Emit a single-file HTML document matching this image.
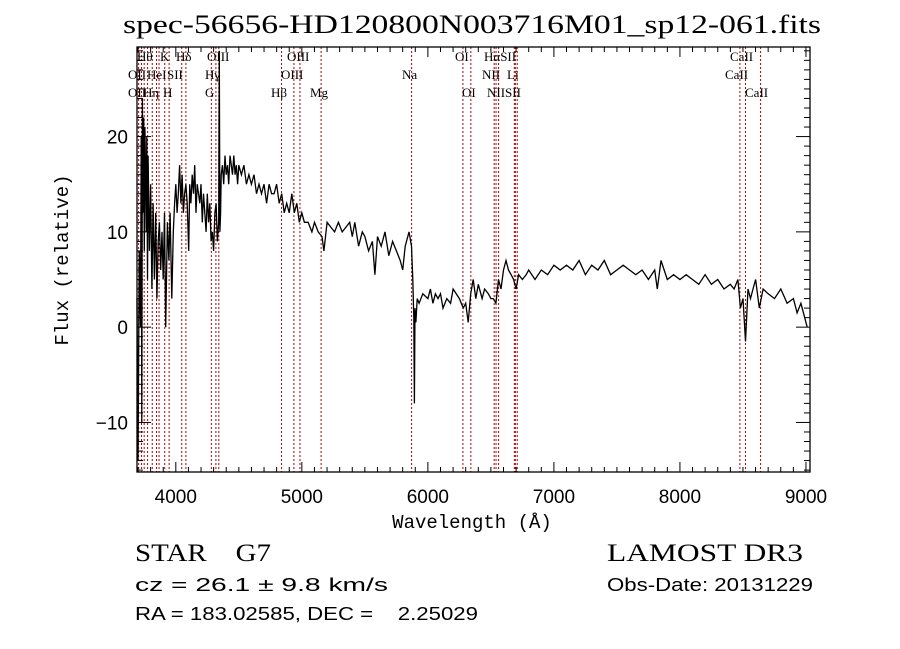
<!DOCTYPE html>
<html><head><meta charset="utf-8"><style>
html,body{margin:0;padding:0;background:#fff;}
svg{display:block;}
</style></head><body>
<svg id="chart" width="900" height="649" viewBox="0 0 900 649" xmlns="http://www.w3.org/2000/svg" font-family="Liberation Serif, serif">
<rect width="900" height="649" fill="#fff"/>
<text x="123" y="33" font-size="26" textLength="698" lengthAdjust="spacingAndGlyphs" font-family="Liberation Serif, serif">spec-56656-HD120800N003716M01_sp12-061.fits</text>
<g id="lines"></g>
<g id="labels" font-size="13"></g>
<path id="spec" fill="none" stroke="#000" stroke-width="1.3"/>
<g id="axes"></g>
<text x="472" y="528" font-size="19" text-anchor="middle" font-family="Liberation Mono, monospace">Wavelength (Å)</text>
<text transform="translate(68,260) rotate(-90)" font-size="19" text-anchor="middle" font-family="Liberation Mono, monospace">Flux (relative)</text>
<text x="135" y="561" font-size="25" textLength="136" lengthAdjust="spacingAndGlyphs" font-family="Liberation Serif, serif" xml:space="preserve">STAR    G7</text>
<text x="607" y="561" font-size="25" textLength="196" lengthAdjust="spacingAndGlyphs" font-family="Liberation Serif, serif">LAMOST DR3</text>
<text x="135" y="591" font-size="18" textLength="253" lengthAdjust="spacingAndGlyphs" font-family="Liberation Sans, sans-serif">cz = 26.1 ± 9.8 km/s</text>
<text x="607" y="591" font-size="18" textLength="206" lengthAdjust="spacingAndGlyphs" font-family="Liberation Sans, sans-serif">Obs-Date: 20131229</text>
<text x="135" y="620" font-size="18" textLength="343" lengthAdjust="spacingAndGlyphs" font-family="Liberation Sans, sans-serif" xml:space="preserve">RA = 183.02585, DEC =    2.25029</text>
</svg>
<script>
const wave=[3692,3700,3710,3720,3725,3730,3735,3740,3745,3750,3755,3760,3765,3770,3775,3780,3790,3800,3810,3820,3830,3840,3850,3860,3870,3880,3890,3900,3910,3920,3933,3945,3955,3968,3980,3990,4000,4010,4020,4030,4040,4050,4060,4070,4080,4090,4102,4110,4120,4130,4140,4150,4160,4170,4180,4190,4200,4210,4220,4230,4240,4250,4260,4270,4280,4290,4300,4310,4320,4330,4340,4345,4350,4355,4360,4370,4380,4390,4400,4410,4420,4430,4440,4450,4460,4470,4480,4490,4500,4520,4540,4560,4580,4600,4620,4640,4660,4680,4700,4720,4740,4760,4780,4800,4820,4840,4860,4880,4900,4920,4940,4960,4980,5000,5020,5050,5080,5100,5130,5160,5175,5200,5230,5260,5290,5320,5350,5380,5400,5420,5450,5480,5500,5530,5560,5580,5600,5630,5660,5690,5720,5750,5780,5800,5820,5850,5870,5880,5888,5893,5898,5905,5915,5930,5960,6000,6020,6040,6060,6080,6100,6120,6150,6180,6200,6250,6280,6300,6320,6340,6360,6380,6400,6430,6450,6480,6500,6520,6540,6560,6580,6600,6620,6640,6660,6680,6700,6720,6750,6780,6800,6850,6900,6950,7000,7050,7100,7150,7200,7250,7300,7350,7400,7450,7500,7550,7600,7650,7700,7750,7800,7820,7850,7900,7950,8000,8050,8100,8150,8200,8250,8300,8350,8400,8430,8460,8480,8500,8520,8540,8560,8580,8600,8630,8660,8700,8750,8800,8850,8900,8930,8960,8990,9010,9032];
const flux=[3,-14,8,0,20,-10,24,12,22,8,21,16,10,20,5,18,8,15,4,13,5,12,3,9,11,6,10,5,12,0,11,7,12,3,10,13,15,12,14,17,13,16,12,14,15,13,8,15,13,16,14,17,12,15,14,13,15,11,14,12,10,14,11,13,9,10,8,12,13,9,11,29,10,12,16,17,15,18,16,17,15,18,17,16,18,16,17,15,17,16,17,15,16,15,16,14,15,14,15,13,15,14,14,15,13,14,12,13,12,14,12,13,11,12,11,11,10,11,10,9.5,8,11,10.5,10,11,10,10.5,11,9.5,11,8.5,10,9.5,8,9,5.5,9.5,8.5,10,7.5,9,8,7,6,8.5,10,8.5,5,1,-8,2,0.5,3,2.5,3.5,3,4,2.5,3.5,3,3.5,2,3,2.5,4,3,2,2.5,0.5,3.5,5,3,4.5,3,4,3.5,3,3,2.5,5,4,6,7,6,5.5,5,4,5.5,5,5.5,6,5,6,5.5,6.5,6,6.5,6,7,5.5,6.5,6,7,5.5,6,6.5,6,5.5,6,5,6,4,7,5,5.5,5,5.5,5,4.5,5.5,4.5,5,4,4.5,4,5,2,3,-1.5,4,3,4,5,2,4,3.5,3,4,2.5,3,1.5,2.5,1,0];
const lineWaves=[3727,3750,3771,3798,3835,3869,3889,3934,3969,4069,4102,4304,4340,4363,4861,4959,5007,5175,5893,6300,6363,6548,6563,6583,6708,6716,6731,8498,8542,8662];
const xTicks=[4000,5000,6000,7000,8000,9000];
const yTicks=[-10,0,10,20];
const labelRows=[
 [["Hθ",137],["K",160],["Hδ",176],["OIII",207],["OIII",287],["OI",455],["HαSII",484],["CaII",730]],
 [["OII",128],["HeI",147],["SII",167],["Hγ",205],["OIII",281],["Na",402],["NII",482],["Li",507],["CaII",725]],
 [["OII",128],["Hη",143],["H",163],["G",205],["Hβ",271],["Mg",310],["OI",462],["NIISII",487],["CaII",745]]
];
const L=137,R=810,T=47,B=472,X0=3692,X1=9032,Y0=-15.2,Y1=29.4;
const LSHIFT=-22;
const ns="http://www.w3.org/2000/svg";
function xs(w){return L+(w-X0)/(X1-X0)*(R-L);}
function ys(f){return B-(f-Y0)/(Y1-Y0)*(B-T);}
function mk(t,a,p){const e=document.createElementNS(ns,t);for(const k in a)e.setAttribute(k,a[k]);p.appendChild(e);return e;}
const gl=document.getElementById('lines');
lineWaves.forEach(w=>{const x=xs(w+LSHIFT);const e=mk('line',{x1:x,x2:x,y1:T,y2:B,stroke:'#b00000','stroke-width':1,'stroke-dasharray':'2,2'},gl);

});
const glb=document.getElementById('labels');
labelRows.forEach((row,i)=>row.forEach(([s,x])=>{const e=mk('text',{x:x,y:61+i*18,'font-size':13,'font-family':'Liberation Serif, serif'},glb);e.textContent=s;

}));
let d='';wave.forEach((w,i)=>{d+=(i?'L':'M')+xs(w).toFixed(1)+','+Math.max(T,Math.min(B,ys(flux[i]))).toFixed(1);});
document.getElementById('spec').setAttribute('d',d);
const ga=document.getElementById('axes');
mk('rect',{x:L,y:T,width:R-L,height:B-T,fill:'none',stroke:'#000','stroke-width':1.3},ga);
for(let w=3700;w<=9000;w+=100){const big=w%1000===0;const h=big?10:5;
mk('line',{x1:xs(w),x2:xs(w),y1:B,y2:B-h,stroke:'#000'},ga);mk('line',{x1:xs(w),x2:xs(w),y1:T,y2:T+h,stroke:'#000'},ga);}
for(let f=-15;f<=29;f++){const big=f%10===0;const h=big?14:6;
mk('line',{x1:L,x2:L+h,y1:ys(f),y2:ys(f),stroke:'#000'},ga);mk('line',{x1:R,x2:R-h,y1:ys(f),y2:ys(f),stroke:'#000'},ga);}
xTicks.forEach(w=>{const e=mk('text',{x:xs(w),y:503,'font-size':19,'text-anchor':'middle','font-family':'Liberation Sans, sans-serif'},ga);e.textContent=w;

});
yTicks.forEach(f=>{const e=mk('text',{x:128,y:ys(f)+7,'font-size':19,'text-anchor':'end','font-family':'Liberation Sans, sans-serif'},ga);e.textContent=(f<0?'−':'')+Math.abs(f);

});
</script>
</body></html>
